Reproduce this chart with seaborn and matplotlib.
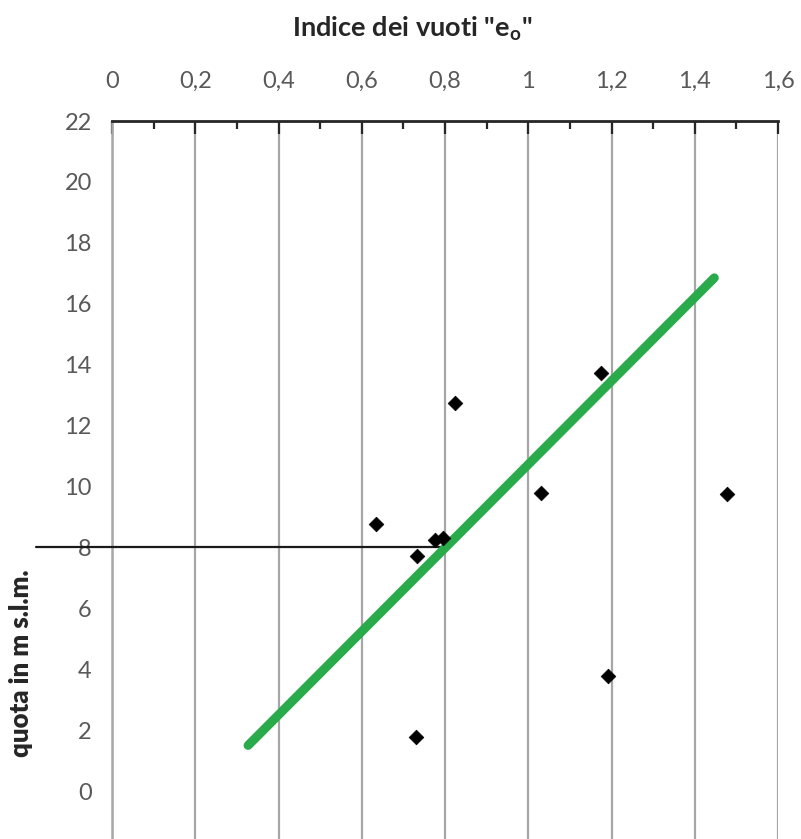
import numpy as np
import pandas as pd
import matplotlib
matplotlib.use("Agg")
import matplotlib.pyplot as plt
from matplotlib.ticker import FixedLocator, MultipleLocator
import seaborn as sns

# ---- data ----
e0_values = [0.635, 0.733, 0.776, 0.795, 0.824, 1.031, 1.175, 1.478, 1.192, 0.731]
quota_values = [8.77, 7.72, 8.24, 8.31, 12.74, 9.79, 13.73, 9.75, 3.78, 1.77]
trend_x = [0.327, 1.447]
trend_y = [1.50, 16.85]
ref_x = [-0.183, 0.805]
ref_y = [8.0, 8.0]
x_ticks = [0, 0.2, 0.4, 0.6, 0.8, 1.0, 1.2, 1.4, 1.6]
x_tick_labels = ["0", "0,2", "0,4", "0,6", "0,8", "1", "1,2", "1,4", "1,6"]
y_ticks = [0, 2, 4, 6, 8, 10, 12, 14, 16, 18, 20, 22]
y_tick_labels = ["0", "2", "4", "6", "8", "10", "12", "14", "16", "18", "20", "22"]
title_text = 'Indice dei vuoti "e$_\\mathregular{o}$"'
ylabel_text = "quota in m s.l.m."

sns.set_style("white")
plt.rcParams["font.family"] = ["Lato", "DejaVu Sans"]
plt.rcParams["mathtext.fontset"] = "custom"
plt.rcParams["mathtext.rm"] = "Lato"
plt.rcParams["mathtext.bf"] = "Lato:bold"

W, H = 801, 839
fig = plt.figure(figsize=(W / 100, H / 100), dpi=100)
fig.patch.set_facecolor("white")
left, right, top, bottom = 112, 778, 121, 852
ax = fig.add_axes([left / W, (H - bottom) / H, (right - left) / W, (bottom - top) / H])
ax.set_facecolor("white")

df_pts = pd.DataFrame({"e0": e0_values, "quota": quota_values})
df_trend = pd.DataFrame({"e0": trend_x, "quota": trend_y})
df_ref = pd.DataFrame({"e0": ref_x, "quota": ref_y})

grid_color = "#a6a6a6"

# reference horizontal line at 8
ax.plot(df_ref["e0"], df_ref["quota"], color="#1a1a1a", lw=1.6, clip_on=False, zorder=3)

# trend line
sns.lineplot(data=df_trend, x="e0", y="quota", ax=ax, color="#2aab4b", lw=6.5,
             solid_capstyle="round", zorder=4, legend=False)

# points
sns.scatterplot(data=df_pts, x="e0", y="quota", ax=ax, marker="D", color="black",
                s=56, edgecolor="black", linewidth=0.5, zorder=5, legend=False)

ax.set_xlim(0, 1.6)
ax.set_ylim(-2, 22)

# x axis on top
ax.xaxis.tick_top()
ax.xaxis.set_label_position("top")
ax.xaxis.set_major_locator(FixedLocator(x_ticks))
ax.set_xticklabels(x_tick_labels)
ax.xaxis.set_minor_locator(MultipleLocator(0.1))
ax.tick_params(axis="x", which="major", direction="in", length=9, width=1.6,
               color="#262626", pad=21, labelsize=17, labelcolor="#595959",
               top=True, bottom=False)
ax.tick_params(axis="x", which="minor", direction="in", length=6, width=1.6,
               color="#262626", top=True, bottom=False)

ax.yaxis.set_major_locator(FixedLocator(y_ticks))
ax.set_yticklabels(y_tick_labels)
ax.yaxis.set_minor_locator(MultipleLocator(1))
ax.tick_params(axis="y", which="major", direction="inout", length=11, width=1.4,
               color=grid_color, pad=9, labelsize=17, labelcolor="#595959")
ax.tick_params(axis="y", which="minor", direction="in", length=4.5, width=1.4,
               color=grid_color)

# grid: vertical only
ax.grid(False)
ax.xaxis.grid(True, which="major", color=grid_color, lw=1.6)
ax.yaxis.grid(False)
ax.set_axisbelow(True)

for s in ["right", "bottom"]:
    ax.spines[s].set_visible(False)
ax.spines["top"].set_color("#262626")
ax.spines["top"].set_linewidth(2.0)
ax.spines["left"].set_color(grid_color)
ax.spines["left"].set_linewidth(1.8)

ax.set_xlabel(title_text, fontsize=19.5, fontweight="bold", color="#262626", va="center")
ax.xaxis.set_label_coords((412 - left) / (right - left), (bottom - 29) / (bottom - top))
ax.set_ylabel(ylabel_text, fontsize=18.5, fontweight="heavy", color="#262626", va="center")
ax.yaxis.set_label_coords((21 - left) / (right - left), (bottom - 663) / (bottom - top))

fig.savefig("out.png", dpi=100, facecolor="white")
